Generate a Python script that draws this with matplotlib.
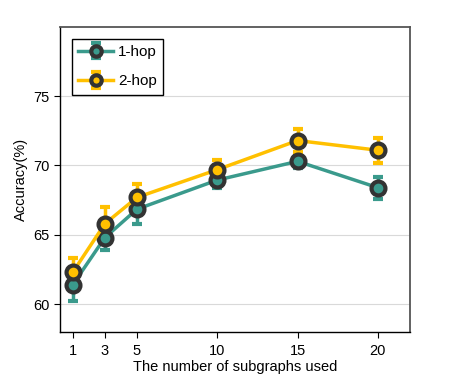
import matplotlib
matplotlib.use("Agg")
import matplotlib.pyplot as plt

plt.rcParams['font.family'] = ['Liberation Sans', 'DejaVu Sans']

# data
subgraphs = [1, 3, 5, 10, 15, 20]
acc_1hop = [61.4, 64.8, 66.85, 68.95, 70.3, 68.4]
err_1hop = [1.2, 0.9, 1.1, 0.6, 0.5, 0.8]
acc_2hop = [62.3, 65.8, 67.7, 69.7, 71.8, 71.1]
err_2hop = [1.0, 1.2, 1.0, 0.7, 0.85, 0.9]

TEAL = '#3a9a8c'
GOLD = '#ffc000'
EDGE = '#333333'

fig = plt.figure(figsize=(4.54, 3.78), dpi=100)
ax = fig.add_axes([0.132, 0.122, 0.771, 0.807])

for acc, err, color, label in [(acc_1hop, err_1hop, TEAL, '1-hop'),
                                (acc_2hop, err_2hop, GOLD, '2-hop')]:
    ax.errorbar(subgraphs, acc, yerr=err, color=color, lw=2.5,
                elinewidth=2.5, capsize=3.5, capthick=2.5,
                marker='o', markersize=10, markerfacecolor=color,
                markeredgecolor=EDGE, markeredgewidth=3, label=label,
                zorder=3)

ax.set_xlim(0.2, 22)
ax.set_ylim(58, 80)
ax.set_xticks(subgraphs)
ax.set_yticks([60, 65, 70, 75])
ax.grid(axis='y', color='#d9d9d9', lw=0.8)
ax.set_axisbelow(True)

ax.set_xlabel('The number of subgraphs used', fontsize=10.5, labelpad=1)
ax.set_ylabel('Accuracy(%)', fontsize=10.5)
ax.tick_params(axis='both', labelsize=10.5, colors='black', direction='out', length=4)
ax.tick_params(axis='x', pad=5)

for side in ['top', 'right']:
    ax.spines[side].set_color('#555555')
    ax.spines[side].set_linewidth(1.3)
for side in ['left', 'bottom']:
    ax.spines[side].set_color('black')
    ax.spines[side].set_linewidth(1.0)

leg = ax.legend(loc='upper left', fontsize=11, frameon=True, fancybox=False,
                edgecolor='black', framealpha=1, borderaxespad=0.8,
                handlelength=2.3, labelspacing=1.0, handletextpad=0.3,
                markerscale=0.75)
leg.get_frame().set_linewidth(1.0)

fig.savefig('out.png', dpi=100)
